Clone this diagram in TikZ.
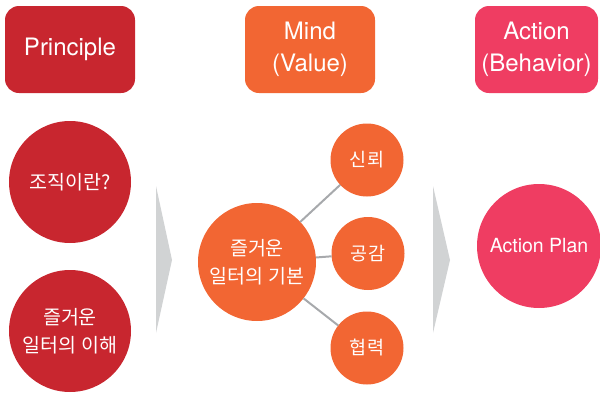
\documentclass[tikz,border=0pt]{standalone}
\usepackage{fontspec}
\setmainfont{TeX Gyre Heros}
\newfontfamily\kr{Noto Sans CJK KR}
\usetikzlibrary{calc}
\definecolor{prinred}{HTML}{C8262F}
\definecolor{mindorange}{HTML}{F26633}
\definecolor{actpink}{HTML}{EF3D62}
\definecolor{chevgray}{HTML}{D1D3D4}
\definecolor{linkgray}{HTML}{A7A9AC}
\tikzstyle{headbox} = [rectangle, rounded corners=14pt, minimum width=130pt, minimum height=87pt, text=white, align=center, font=\fontsize{24}{32}\selectfont, inner sep=0pt, outer sep=0pt]
\tikzstyle{bigcirc} = [circle, minimum size=122pt, text=white, align=center, font=\kr\fontsize{19.5}{28}\selectfont, inner sep=0pt, outer sep=0pt]
\tikzstyle{smallcirc} = [circle, minimum size=73pt, fill=mindorange, text=white, font=\kr\fontsize{18.5}{20}\selectfont, inner sep=0pt, outer sep=0pt]
\tikzstyle{link} = [draw=linkgray, line width=2pt]
\tikzstyle{chevron} = [fill=chevgray]

\begin{document}
\begin{tikzpicture}[x=1pt, y=-1pt]
\useasboundingbox (0,0) rectangle (600,394);
% column headers
\node[headbox, fill=prinred] (principle) at (70,49.5) {Principle};
\node[headbox, fill=mindorange] (mind) at (310,49.5) {Mind\\(Value)};
\node[headbox, fill=actpink, minimum width=123pt] (action) at (536.5,49.5) {Action\\(Behavior)};

% principle
\node[bigcirc, fill=prinred] (org) at (70,182) {조직이란?};
\node[bigcirc, fill=prinred] (understand) at (70,331) {즐거운\\일터의 이해};
\fill[chevron] (156,186) -- (172,260) -- (156,333) -- cycle;

% mind
\node[bigcirc, fill=mindorange, minimum size=118pt] (basic) at (257,262) {즐거운\\일터의 기본};
\node[smallcirc] (trust) at (367,160) {신뢰};
\node[smallcirc] (empathy) at (368,253.5) {공감};
\node[smallcirc] (coop) at (367,348) {협력};
\draw[link] (basic) -- (trust);
\draw[link] (basic) -- (empathy);
\draw[link] (basic) -- (coop);
\fill[chevron] (433,186) -- (450,260) -- (433,333) -- cycle;

% action
\node[bigcirc, fill=actpink, minimum size=124pt, font=\fontsize{19.5}{20}\selectfont] (plan) at (539,246) {Action Plan};
\end{tikzpicture}
\end{document}
